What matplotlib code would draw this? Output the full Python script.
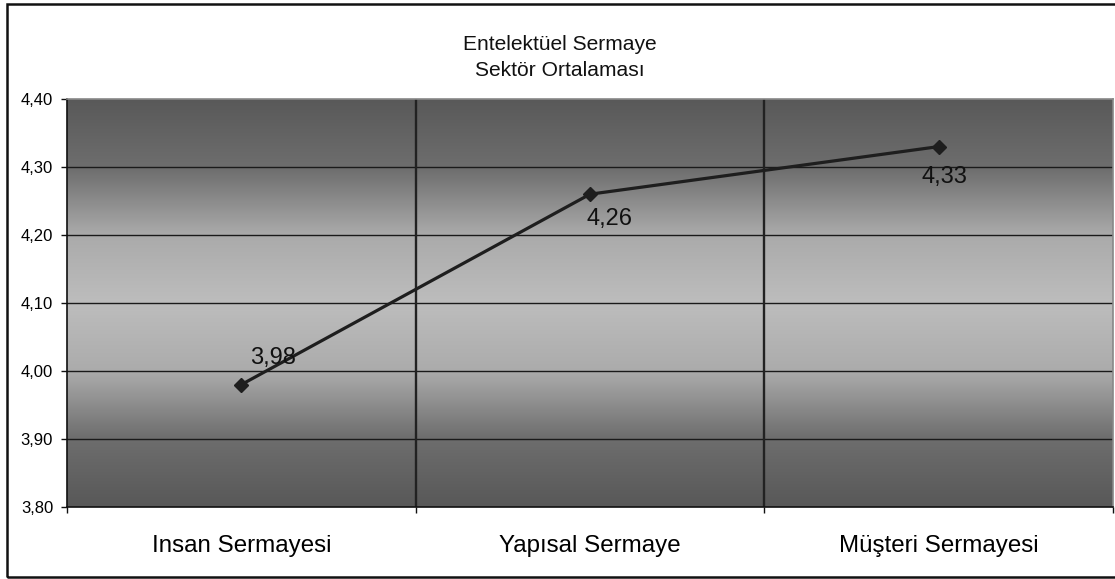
import matplotlib
matplotlib.use("Agg")
import matplotlib.pyplot as plt
import numpy as np
from matplotlib.colors import LinearSegmentedColormap
from matplotlib.patches import Rectangle

categories = ["Insan Sermayesi", "Yapısal Sermaye", "Müşteri Sermayesi"]
values = [3.98, 4.26, 4.33]
value_labels = ["3,98", "4,26", "4,33"]
yticks = [3.80, 3.90, 4.00, 4.10, 4.20, 4.30, 4.40]
ytick_labels = ["3,80", "3,90", "4,00", "4,10", "4,20", "4,30", "4,40"]
title_lines = ["Entelektüel Sermaye", "Sektör Ortalaması"]

plt.rcParams['font.family'] = ['Liberation Sans', 'DejaVu Sans']

W, H = 1115, 579
fig = plt.figure(figsize=(W / 100, H / 100), dpi=100)
fig.patch.set_facecolor("white")

# outer frame
fig.patches.append(Rectangle((7 / W, 2.5 / H), 1.2, 1 - 6 / H, transform=fig.transFigure,
                             fill=False, edgecolor="#111111", linewidth=1.8, clip_on=False))

left, right, top, bottom = 67, 1113, 99, 507
ax = fig.add_axes([left / W, 1 - bottom / H, (right - left) / W, (bottom - top) / H])

# gradient background
cmap = LinearSegmentedColormap.from_list("bg", [
    (0.0, "#595959"), (0.17, "#6e6e6e"), (0.33, "#aaaaaa"), (0.5, "#bdbdbd"),
    (0.67, "#ababab"), (0.83, "#6e6e6e"), (1.0, "#585858")])
grad = np.linspace(0, 1, 256).reshape(-1, 1)
ax.imshow(grad, cmap=cmap, aspect="auto", extent=[0, 1, 0, 1], transform=ax.transAxes,
          zorder=0, interpolation="bicubic")

x = np.arange(len(categories))
ax.set_xlim(-0.5, len(categories) - 0.5)
ax.set_ylim(yticks[0], yticks[-1])

# grid lines
for yv in yticks[1:-1]:
    ax.axhline(yv, color="#1a1a1a", linewidth=1.0, zorder=1)
for xv in np.arange(0.5, len(categories) - 0.5, 1):
    ax.axvline(xv, color="#222222", linewidth=1.7, zorder=1)

ax.plot(x, values, color="#1e1e1e", linewidth=2.3, marker="D", markersize=7.5,
        markerfacecolor="#1e1e1e", markeredgecolor="#1e1e1e", zorder=3)

offsets = [(23, 19), (14, -18), (4, -22)]
for xi, v, lab, off in zip(x, values, value_labels, offsets):
    ax.annotate(lab, (xi, v), xytext=off, textcoords="offset points",
                ha="center", va="center", fontsize=17, color="#111111", zorder=4)

ax.set_yticks(yticks)
ax.set_yticklabels(ytick_labels, fontsize=12)
ax.set_xticks(x)
ax.set_xticklabels(categories, fontsize=17.4)
ax.set_xticks(np.arange(-0.5, len(categories), 1), minor=True)
ax.tick_params(axis="y", direction="out", length=4, width=1, pad=6, color="#111111")
ax.tick_params(axis="x", which="major", length=0, pad=20)
ax.tick_params(axis="x", which="minor", direction="out", length=4, width=1, color="#111111")

for s in ["left", "bottom"]:
    ax.spines[s].set_color("#111111")
    ax.spines[s].set_linewidth(1.2)
for s in ["top", "right"]:
    ax.spines[s].set_color("#888888")
    ax.spines[s].set_linewidth(1.2)

fig.text(560 / W, 1 - 44 / H, title_lines[0], ha="center", va="center", fontsize=15.1, color="#111111")
fig.text(560 / W, 1 - 71 / H, title_lines[1], ha="center", va="center", fontsize=15.1, color="#111111")

fig.savefig("out.png", dpi=100, facecolor="white")
